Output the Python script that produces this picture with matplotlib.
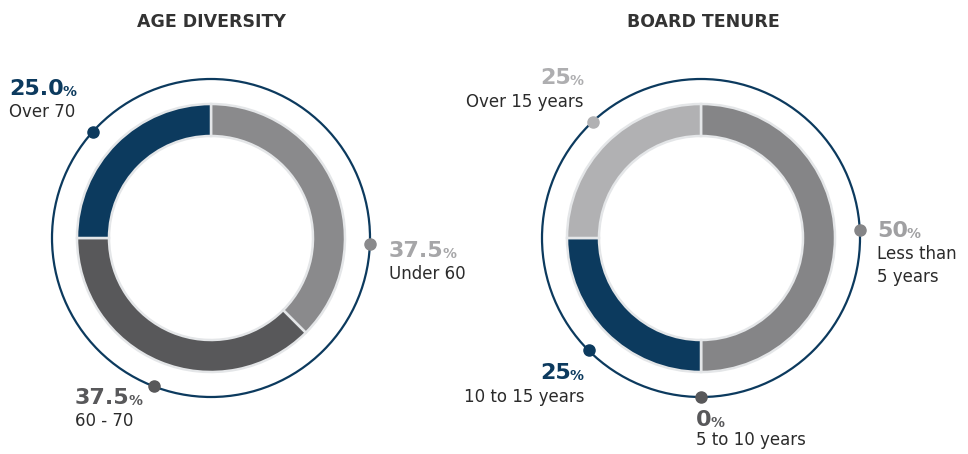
import numpy as np
import matplotlib
matplotlib.use('Agg')
import matplotlib.pyplot as plt
from matplotlib.patches import Circle

W, H = 968, 454

# data
age_labels = ['Under 60', '60 - 70', 'Over 70']
age_values = [37.5, 37.5, 25.0]
age_texts = ['37.5', '37.5', '25.0']

tenure_labels = ['Less than\n5 years', '5 to 10 years', '10 to 15 years', 'Over 15 years']
tenure_values = [50, 0, 25, 25]
tenure_texts = ['50', '0', '25', '25']

navy = '#0c3a5e'
age_colors = ['#8a8a8c', '#58585a', navy]
age_num_colors = ['#a6a6a8', '#58585a', navy]
tenure_colors = ['#858587', '#58585a', navy, '#b1b1b3']
tenure_num_colors = ['#a0a0a2', '#58585a', navy, '#aeaeb0']
text_col = '#2b2b2b'

fig = plt.figure(figsize=(W / 100, H / 100), dpi=100)
ax = fig.add_axes([0, 0, 1, 1])

def py(y):
    return H - y

def donut(cx, cy, values, colors, dot_angles, dot_colors):
    ax.pie(values, colors=colors, startangle=90, counterclock=False,
           radius=134, center=(cx, py(cy)),
           wedgeprops=dict(width=32, edgecolor='#e4e6e8', linewidth=1.8))
    ring = Circle((cx, py(cy)), 159, fill=False, edgecolor=navy, lw=1.6)
    ax.add_patch(ring)
    for a, c in zip(dot_angles, dot_colors):
        t = np.deg2rad(a)
        ax.plot(cx + 159 * np.cos(t), py(cy) + 159 * np.sin(t), 'o',
                ms=8, color=c, zorder=5)

NUM_FS = 16
PCT_FS = 10
NAME_FS = 12

def pct_label(x, y, num, name, ncol, ha='left', gap=8):
    # number + small percent sign, name below
    if ha == 'left':
        t = ax.text(x, py(y), num, fontsize=NUM_FS, fontweight='bold', color=ncol,
                    ha='left', va='baseline')
        ax.annotate('%', xycoords=t, xy=(1, 0), xytext=(-1, 0),
                    textcoords='offset points', fontsize=PCT_FS, fontweight='bold',
                    color=ncol, ha='left', va='bottom')
    else:
        p = ax.text(x, py(y), '%', fontsize=PCT_FS, fontweight='bold', color=ncol,
                    ha='right', va='baseline')
        ax.annotate(num, xycoords=p, xy=(0, 0), xytext=(1, 0),
                    textcoords='offset points', fontsize=NUM_FS, fontweight='bold',
                    color=ncol, ha='right', va='bottom')
    ax.text(x, py(y) - gap, name, fontsize=NAME_FS, color=text_col,
            ha=ha, va='top', linespacing=1.35)

# left chart
donut(211, 238, age_values, age_colors, [-2, -111, 138],
      [age_colors[0], age_colors[1], navy])
ax.text(211, py(22), 'AGE DIVERSITY', fontsize=12.5, fontweight='bold',
        color='#333333', ha='center', va='center')
pct_label(389, 257, age_texts[0], age_labels[0], age_num_colors[0])
pct_label(75, 404, age_texts[1], age_labels[1], age_num_colors[1])
pct_label(9, 95, age_texts[2], age_labels[2], age_num_colors[2])

# right chart
donut(701, 238, tenure_values, tenure_colors, [3, -90, -135, 133],
      [tenure_colors[0], tenure_colors[1], navy, tenure_colors[3]])
ax.text(703, py(22), 'BOARD TENURE', fontsize=12.5, fontweight='bold',
        color='#333333', ha='center', va='center')
pct_label(877, 237, tenure_texts[0], tenure_labels[0], tenure_num_colors[0])
pct_label(696, 426, tenure_texts[1], tenure_labels[1], tenure_num_colors[1], gap=5)
pct_label(584, 380, tenure_texts[2], tenure_labels[2], tenure_num_colors[2], ha='right')
pct_label(584, 85, tenure_texts[3], tenure_labels[3], tenure_num_colors[3], ha='right')

ax.set_xlim(0, W)
ax.set_ylim(0, H)
ax.set_aspect('equal')
ax.axis('off')

fig.savefig('out.png', dpi=100, facecolor='white')
